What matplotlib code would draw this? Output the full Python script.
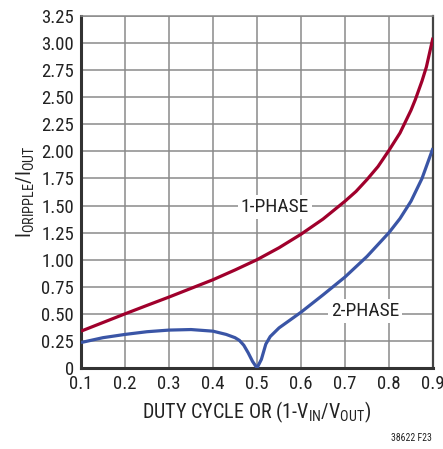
import matplotlib
matplotlib.use('agg')
import numpy as np
from matplotlib import pyplot as plt

# values
duty_1ph = [0.1, 0.15, 0.2, 0.25, 0.3, 0.35, 0.4, 0.45, 0.5, 0.55, 0.6, 0.65, 0.7,
            0.725, 0.75, 0.775, 0.8, 0.825, 0.85, 0.86, 0.875, 0.885, 0.9]
ripple_1ph = [0.34, 0.42, 0.5, 0.578, 0.655, 0.735, 0.815, 0.905, 1.0, 1.11, 1.235,
              1.375, 1.54, 1.63, 1.74, 1.86, 2.01, 2.17, 2.38, 2.48, 2.65, 2.78, 3.05]

duty_2ph = [0.1, 0.15, 0.2, 0.25, 0.3, 0.35, 0.4, 0.43, 0.45, 0.46, 0.47, 0.48,
            0.49, 0.5, 0.51, 0.52, 0.53, 0.55, 0.6, 0.65, 0.7, 0.75, 0.8, 0.825,
            0.85, 0.875, 0.9]
ripple_2ph = [0.235, 0.28, 0.31, 0.335, 0.35, 0.355, 0.34, 0.31, 0.28, 0.255,
              0.21, 0.14, 0.06, 0.0, 0.08, 0.22, 0.29, 0.37, 0.515, 0.675, 0.84,
              1.03, 1.25, 1.38, 1.54, 1.75, 2.03]

x_ticks = [0.1, 0.2, 0.3, 0.4, 0.5, 0.6, 0.7, 0.8, 0.9]
y_ticks = [0, 0.25, 0.5, 0.75, 1.0, 1.25, 1.5, 1.75, 2.0, 2.25, 2.5, 2.75, 3.0, 3.25]
y_labels = ['0'] + [f'{v:.2f}' for v in y_ticks[1:]]

RED = '#A0002C'
BLUE = '#3A55A6'
FONT = ['Roboto Condensed', 'DejaVu Sans']

plt.rcParams['font.family'] = FONT
plt.rcParams['mathtext.fontset'] = 'custom'
plt.rcParams['mathtext.rm'] = 'Roboto Condensed'
plt.rcParams['mathtext.it'] = 'Roboto Condensed'

fig = plt.figure(figsize=(4.43, 4.49), dpi=100)
ax = fig.add_axes([81 / 443, 81 / 449, 352 / 443, 352 / 449])

ax.plot(duty_1ph, ripple_1ph, color=RED, lw=2.3, solid_capstyle='butt', zorder=3)
ax.plot(duty_2ph, ripple_2ph, color=BLUE, lw=2.3, solid_capstyle='butt', zorder=3)

ax.set_xlim(0.1, 0.9)
ax.set_ylim(0, 3.25)
ax.set_xticks(x_ticks)
ax.set_xticklabels([f'{v:.1f}' for v in x_ticks])
ax.set_yticks(y_ticks)
ax.set_yticklabels(y_labels)
ax.tick_params(length=0, labelsize=13.5, colors='#222222', pad=5)
ax.grid(True, color='#8a8a8a', lw=1.1, zorder=1)

for side in ['left', 'bottom']:
    ax.spines[side].set_linewidth(2.2)
    ax.spines[side].set_color('#333333')
ax.spines['right'].set_linewidth(1.6)
ax.spines['right'].set_color('#444444')
ax.spines['top'].set_linewidth(1.1)
ax.spines['top'].set_color('#8a8a8a')

ax.set_xlabel(r'DUTY CYCLE OR (1-V$_{\mathrm{IN}}$/V$_{\mathrm{OUT}}$)',
              fontsize=14.5, color='#222222', labelpad=5)
ax.set_ylabel(r'I$_{\mathrm{ORIPPLE}}$/I$_{\mathrm{OUT}}$',
              fontsize=14.5, color='#222222', labelpad=3)

box = dict(boxstyle='square,pad=0.15', fc='white', ec='none')
ax.text(0.54, 1.49, '1-PHASE', fontsize=14, color='#222222', ha='center',
        va='center', bbox=box, zorder=4)
ax.text(0.745, 0.53, '2-PHASE', fontsize=14, color='#222222', ha='center',
        va='center', bbox=box, zorder=4)

fig.text(432 / 443, 1 - 438 / 449, '38622 F23', fontsize=7, color='#222222',
         ha='right', va='center')

fig.savefig('out.png', dpi=100)
